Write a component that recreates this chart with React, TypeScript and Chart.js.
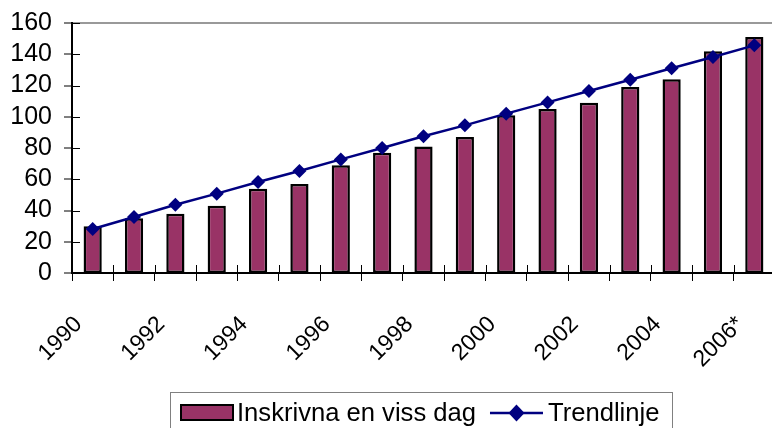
import React, { useEffect, useRef } from "react";
import { Chart, registerables } from "chart.js";

Chart.register(...registerables);

const categories = ["1990","1991","1992","1993","1994","1995","1996","1997","1998","1999","2000","2001","2002","2003","2004","2005","2006*"];
const inskrivna = [30, 35, 38, 43, 54, 57, 69, 77, 81, 87, 101, 105, 109, 119, 124, 142, 151];
const trendlinje = [28.2, 35.8, 43.7, 50.8, 58.2, 65.3, 72.7, 80.0, 87.5, 94.5, 102.0, 109.2, 116.5, 123.7, 131.0, 138.2, 145.7];
const yTicks = [0, 20, 40, 60, 80, 100, 120, 140, 160];

const FONT = "'Liberation Sans', Arial, sans-serif";
const BAR_COLOR = "#993366";
const LINE_COLOR = "#000080";

const crossTicks = {
  id: "crossTicks",
  afterDraw(chart: any) {
    const { ctx, chartArea } = chart;
    const x = chart.scales.x;
    const y = chart.scales.y;
    ctx.save();
    ctx.strokeStyle = "#000";
    ctx.lineWidth = 1;
    const n = categories.length;
    for (let i = 0; i <= n; i++) {
      const px = Math.round(x.left + (i * (x.right - x.left)) / n) + 0.5;
      ctx.beginPath();
      ctx.moveTo(px, chartArea.bottom);
      ctx.lineTo(px, chartArea.bottom - 8);
      ctx.stroke();
    }
    yTicks.forEach((v) => {
      const py = Math.round(y.getPixelForValue(v)) + 0.5;
      ctx.beginPath();
      ctx.moveTo(chartArea.left, py);
      ctx.lineTo(chartArea.left + 8, py);
      ctx.stroke();
    });
    ctx.restore();
  },
};

const customLegend = {
  id: "customLegend",
  afterDraw(chart: any) {
    const { ctx } = chart;
    const ds = chart.data.datasets;
    const barDs = ds.find((d: any) => d.type === "bar");
    const lineDs = ds.find((d: any) => d.type === "line");
    ctx.save();
    ctx.strokeStyle = "#808080";
    ctx.lineWidth = 1;
    ctx.strokeRect(170.5, 392.5, 502, 60);
    ctx.fillStyle = BAR_COLOR;
    ctx.fillRect(180, 404, 54, 17);
    ctx.strokeStyle = "#000";
    ctx.lineWidth = 2;
    ctx.strokeRect(181, 405, 52, 15);
    ctx.font = `25.6px ${FONT}`;
    ctx.fillStyle = "#000";
    ctx.textBaseline = "alphabetic";
    ctx.textAlign = "left";
    const t1x = 237;
    ctx.fillText(barDs.label, t1x, 421);
    const t1w = ctx.measureText(barDs.label).width;
    const lx0 = t1x + t1w + 14;
    const lx1 = lx0 + 53;
    const ly = 413;
    ctx.strokeStyle = LINE_COLOR;
    ctx.lineWidth = 2.5;
    ctx.beginPath();
    ctx.moveTo(lx0, ly);
    ctx.lineTo(lx1, ly);
    ctx.stroke();
    const cx = (lx0 + lx1) / 2;
    ctx.fillStyle = LINE_COLOR;
    ctx.beginPath();
    ctx.moveTo(cx, ly - 8.5);
    ctx.lineTo(cx + 8, ly);
    ctx.lineTo(cx, ly + 8.5);
    ctx.lineTo(cx - 8, ly);
    ctx.closePath();
    ctx.fill();
    ctx.fillStyle = "#000";
    ctx.fillText(lineDs.label, lx1 + 5, 421);
    ctx.restore();
  },
};

export default function App() {
  const ref = useRef<HTMLCanvasElement>(null);
  useEffect(() => {
    const canvas = ref.current;
    if (!canvas) return;
    const chart = new Chart(canvas, {
      type: "bar",
      data: {
        labels: categories,
        datasets: [
          {
            type: "line",
            label: "Trendlinje",
            data: trendlinje,
            borderColor: LINE_COLOR,
            backgroundColor: LINE_COLOR,
            borderWidth: 2.5,
            pointStyle: "rectRot",
            pointRadius: 7,
            pointBackgroundColor: LINE_COLOR,
            pointBorderColor: LINE_COLOR,
            pointBorderWidth: 0,
            tension: 0,
            order: 1,
          } as any,
          {
            type: "bar",
            label: "Inskrivna en viss dag",
            data: inskrivna,
            backgroundColor: BAR_COLOR,
            borderColor: "#000",
            borderWidth: 2.5,
            borderSkipped: false,
            categoryPercentage: 1,
            barPercentage: 0.44,
            order: 2,
          } as any,
        ],
      },
      options: {
        responsive: false,
        animation: false,
        devicePixelRatio: 1,
        layout: { padding: { top: 23, right: 25, left: 0, bottom: 0 } },
        plugins: {
          legend: { display: false },
          tooltip: { enabled: false },
        },
        scales: {
          x: {
            offset: true,
            afterFit: (s: any) => { s.height = 167; s.paddingLeft = 0; s.paddingRight = 0; },
            border: { color: "#000", width: 2 },
            grid: {
              offset: true,
              drawOnChartArea: false,
              drawTicks: true,
              tickLength: 8,
              tickColor: "#000",
              tickWidth: 1,
            },
            ticks: {
              autoSkip: false,
              minRotation: 45,
              maxRotation: 45,
              padding: 30,
              labelOffset: -14,
              color: "#000",
              font: { family: FONT, size: 23 },
              callback: (_v: any, i: number) => (i % 2 === 0 ? categories[i] : ""),
            },
          },
          y: {
            min: 0,
            max: 160,
            afterFit: (s: any) => { s.width = 72; s.paddingTop = 0; s.paddingBottom = 0; },
            border: { color: "#000", width: 2 },
            grid: {
              color: (c: any) => (c.tick && c.tick.value === 160 ? "#999999" : "rgba(0,0,0,0)"),
              lineWidth: (c: any) => (c.tick && c.tick.value === 160 ? 2 : 0),
              tickColor: "#000",
              tickLength: 8,
              tickWidth: 1,
            },
            afterBuildTicks: (s: any) => { s.ticks = yTicks.map((v) => ({ value: v })); },
            ticks: {
              autoSkip: false,
              padding: 12,
              color: "#000",
              font: { family: FONT, size: 25 },
            },
          },
        },
      },
      plugins: [crossTicks, customLegend],
    });
    return () => chart.destroy();
  }, []);
  return (
    <div style={{ position: "fixed", left: 0, top: 0, width: 772, height: 428, overflow: "hidden", background: "#fff" }}>
      <canvas ref={ref} width={800} height={440} style={{ display: "block", width: 800, height: 440 }} />
    </div>
  );
}
